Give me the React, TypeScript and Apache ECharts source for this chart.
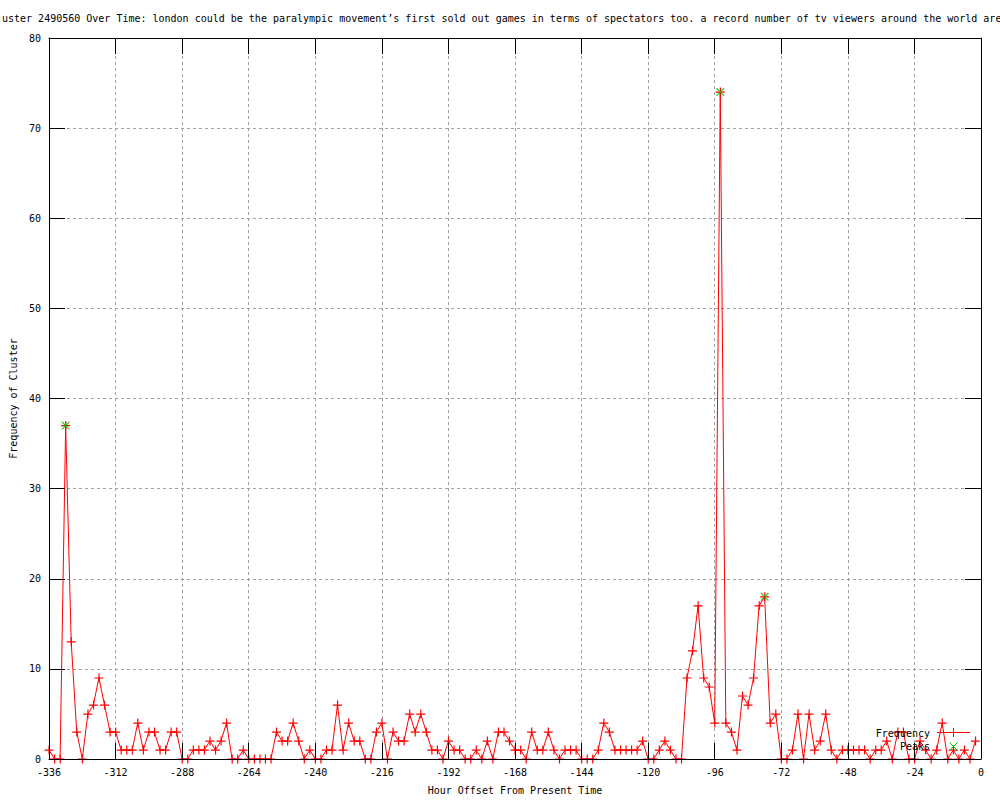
import React, { useEffect, useRef } from "react";
import * as echarts from "echarts";

const titleText =
  "uster 2490560 Over Time: london could be the paralympic movement’s first sold out games in terms of spectators too. a record number of tv viewers around the world are";
const xAxisName = "Hour Offset From Present Time";
const yAxisName = "Frequency of Cluster";
const seriesNames = ["Frequency", "Peaks"];

const hours = [
  -336, -334, -332, -330, -328, -326, -324, -322, -320, -318, -316, -314,
  -312, -310, -308, -306, -304, -302, -300, -298, -296, -294, -292, -290,
  -288, -286, -284, -282, -280, -278, -276, -274, -272, -270, -268, -266,
  -264, -262, -260, -258, -256, -254, -252, -250, -248, -246, -244, -242,
  -240, -238, -236, -234, -232, -230, -228, -226, -224, -222, -220, -218,
  -216, -214, -212, -210, -208, -206, -204, -202, -200, -198, -196, -194,
  -192, -190, -188, -186, -184, -182, -180, -178, -176, -174, -172, -170,
  -168, -166, -164, -162, -160, -158, -156, -154, -152, -150, -148, -146,
  -144, -142, -140, -138, -136, -134, -132, -130, -128, -126, -124, -122,
  -120, -118, -116, -114, -112, -110, -108, -106, -104, -102, -100, -98,
  -96, -94, -92, -90, -88, -86, -84, -82, -80, -78, -76, -74,
  -72, -70, -68, -66, -64, -62, -60, -58, -56, -54, -52, -50,
  -48, -46, -44, -42, -40, -38, -36, -34, -32, -30, -28, -26,
  -24, -22, -20, -18, -16, -14, -12, -10, -8, -6, -4, -2,
];

const frequency = [
  1, 0, 0, 37, 13, 3, 0, 5, 6, 9, 6, 3,
  3, 1, 1, 1, 4, 1, 3, 3, 1, 1, 3, 3,
  0, 0, 1, 1, 1, 2, 1, 2, 4, 0, 0, 1,
  0, 0, 0, 0, 0, 3, 2, 2, 4, 2, 0, 1,
  0, 0, 1, 1, 6, 1, 4, 2, 2, 0, 0, 3,
  4, 0, 3, 2, 2, 5, 3, 5, 3, 1, 1, 0,
  2, 1, 1, 0, 0, 1, 0, 2, 0, 3, 3, 2,
  1, 1, 0, 3, 1, 1, 3, 1, 0, 1, 1, 1,
  0, 0, 0, 1, 4, 3, 1, 1, 1, 1, 1, 2,
  0, 0, 1, 2, 1, 0, 0, 9, 12, 17, 9, 8,
  4, 74, 4, 3, 1, 7, 6, 9, 17, 18, 4, 5,
  0, 0, 1, 5, 0, 5, 1, 2, 5, 1, 0, 1,
  1, 1, 1, 1, 0, 1, 1, 2, 0, 3, 3, 0,
  0, 2, 1, 0, 1, 4, 0, 1, 0, 1, 0, 2,
];

const peakHours = [-330, -94, -78];
const peakValues = [37, 74, 18];

const FONT = "'DejaVu Sans Mono', 'Liberation Mono', monospace";
const RED = "#ff0000";
const GREEN = "#00c000";
const PLUS = "path://M4,0h1.2v9h-1.2z M0,4h9v1.2h-9z";
const CROSS =
  "path://M0,0 L1,0 L9,8 L9,9 L8,9 L0,1 Z M8,0 L9,0 L9,1 L1,9 L0,9 L0,8 Z";

const X_MIN = -336;
const X_MAX = 0;
const X_STEP = 24;
const Y_MIN = 0;
const Y_MAX = 80;
const Y_STEP = 10;

export default function App() {
  const ref = useRef<HTMLDivElement>(null);

  useEffect(() => {
    if (!ref.current) return;
    const chart = echarts.init(ref.current, undefined, { renderer: "svg" });

    const labelStyle = { color: "#000", fontFamily: FONT, fontSize: 10 };
    const gridLine = {
      show: true,
      lineStyle: { color: "#a0a0a0", type: [3, 3], width: 1 },
    };
    const borderAxisX = (position: string) => ({
      type: "value",
      position,
      min: X_MIN,
      max: X_MAX,
      interval: X_STEP,
      z: 5,
      axisLine: { show: true, onZero: false, lineStyle: { color: "#000", width: 1 } },
      axisTick: { show: true, inside: true, length: 16, lineStyle: { color: "#000" } },
      axisLabel: { show: false },
      splitLine: { show: false },
    });
    const borderAxisY = (position: string) => ({
      type: "value",
      position,
      min: Y_MIN,
      max: Y_MAX,
      interval: Y_STEP,
      z: 5,
      axisLine: { show: true, onZero: false, lineStyle: { color: "#000", width: 1 } },
      axisTick: { show: true, inside: true, length: 16, lineStyle: { color: "#000" } },
      axisLabel: { show: false },
      splitLine: { show: false },
    });

    chart.setOption({
      animation: false,
      backgroundColor: "#fff",
      title: {
        text: titleText,
        left: 2,
        top: 13,
        padding: 0,
        textStyle: { color: "#000", fontFamily: FONT, fontSize: 10, fontWeight: "normal" },
      },
      grid: { left: 49, right: 19, top: 38, bottom: 40, containLabel: false },
      xAxis: [
        {
          type: "value",
          position: "bottom",
          min: X_MIN,
          max: X_MAX,
          interval: X_STEP,
          z: 0,
          axisLine: { show: false, onZero: false },
          axisTick: { show: false },
          axisLabel: { ...labelStyle, margin: 8, showMinLabel: true, showMaxLabel: true },
          splitLine: gridLine,
          name: xAxisName,
          nameLocation: "middle",
          nameGap: 26,
          nameTextStyle: labelStyle,
        },
        borderAxisX("bottom"),
        borderAxisX("top"),
      ],
      yAxis: [
        {
          type: "value",
          position: "left",
          min: Y_MIN,
          max: Y_MAX,
          interval: Y_STEP,
          z: 0,
          axisLine: { show: false, onZero: false },
          axisTick: { show: false },
          axisLabel: { ...labelStyle, margin: 8 },
          splitLine: gridLine,
          name: yAxisName,
          nameLocation: "middle",
          nameGap: 31,
          nameTextStyle: labelStyle,
        },
        borderAxisY("left"),
        borderAxisY("right"),
      ],
      series: [
        {
          name: seriesNames[0],
          type: "line",
          xAxisIndex: 0,
          yAxisIndex: 0,
          data: hours.map((h, i) => [h, frequency[i]]),
          symbol: PLUS,
          symbolSize: 9,
          showAllSymbol: true,
          clip: false,
          z: 2,
          lineStyle: { color: RED, width: 1 },
          itemStyle: { color: RED, borderWidth: 0 },
        },
        {
          name: seriesNames[1],
          type: "scatter",
          xAxisIndex: 0,
          yAxisIndex: 0,
          data: peakHours.map((h, i) => [h, peakValues[i]]),
          symbol: CROSS,
          symbolSize: 8,
          z: 3,
          itemStyle: { color: GREEN, borderWidth: 0 },
        },
      ],
      graphic: [
        {
          type: "text",
          x: 930,
          y: 733,
          z: 10,
          style: {
            text: seriesNames[0],
            fill: "#000",
            font: `10px ${FONT}`,
            align: "right",
            verticalAlign: "middle",
          },
        },
        {
          type: "line",
          z: 10,
          shape: { x1: 937, y1: 732.5, x2: 970, y2: 732.5 },
          style: { stroke: RED, lineWidth: 1 },
        },
        {
          type: "line",
          z: 10,
          shape: { x1: 953.5, y1: 728, x2: 953.5, y2: 737 },
          style: { stroke: RED, lineWidth: 1 },
        },
        {
          type: "text",
          x: 930,
          y: 746,
          z: 10,
          style: {
            text: seriesNames[1],
            fill: "#000",
            font: `10px ${FONT}`,
            align: "right",
            verticalAlign: "middle",
          },
        },
        {
          type: "line",
          z: 10,
          shape: { x1: 949.5, y1: 742.5, x2: 957.5, y2: 750.5 },
          style: { stroke: GREEN, lineWidth: 1 },
        },
        {
          type: "line",
          z: 10,
          shape: { x1: 957.5, y1: 742.5, x2: 949.5, y2: 750.5 },
          style: { stroke: GREEN, lineWidth: 1 },
        },
      ],
    });

    return () => chart.dispose();
  }, []);

  return (
    <div
      ref={ref}
      style={{ position: "absolute", left: 0, top: 0, width: 1000, height: 800, background: "#fff" }}
    />
  );
}
